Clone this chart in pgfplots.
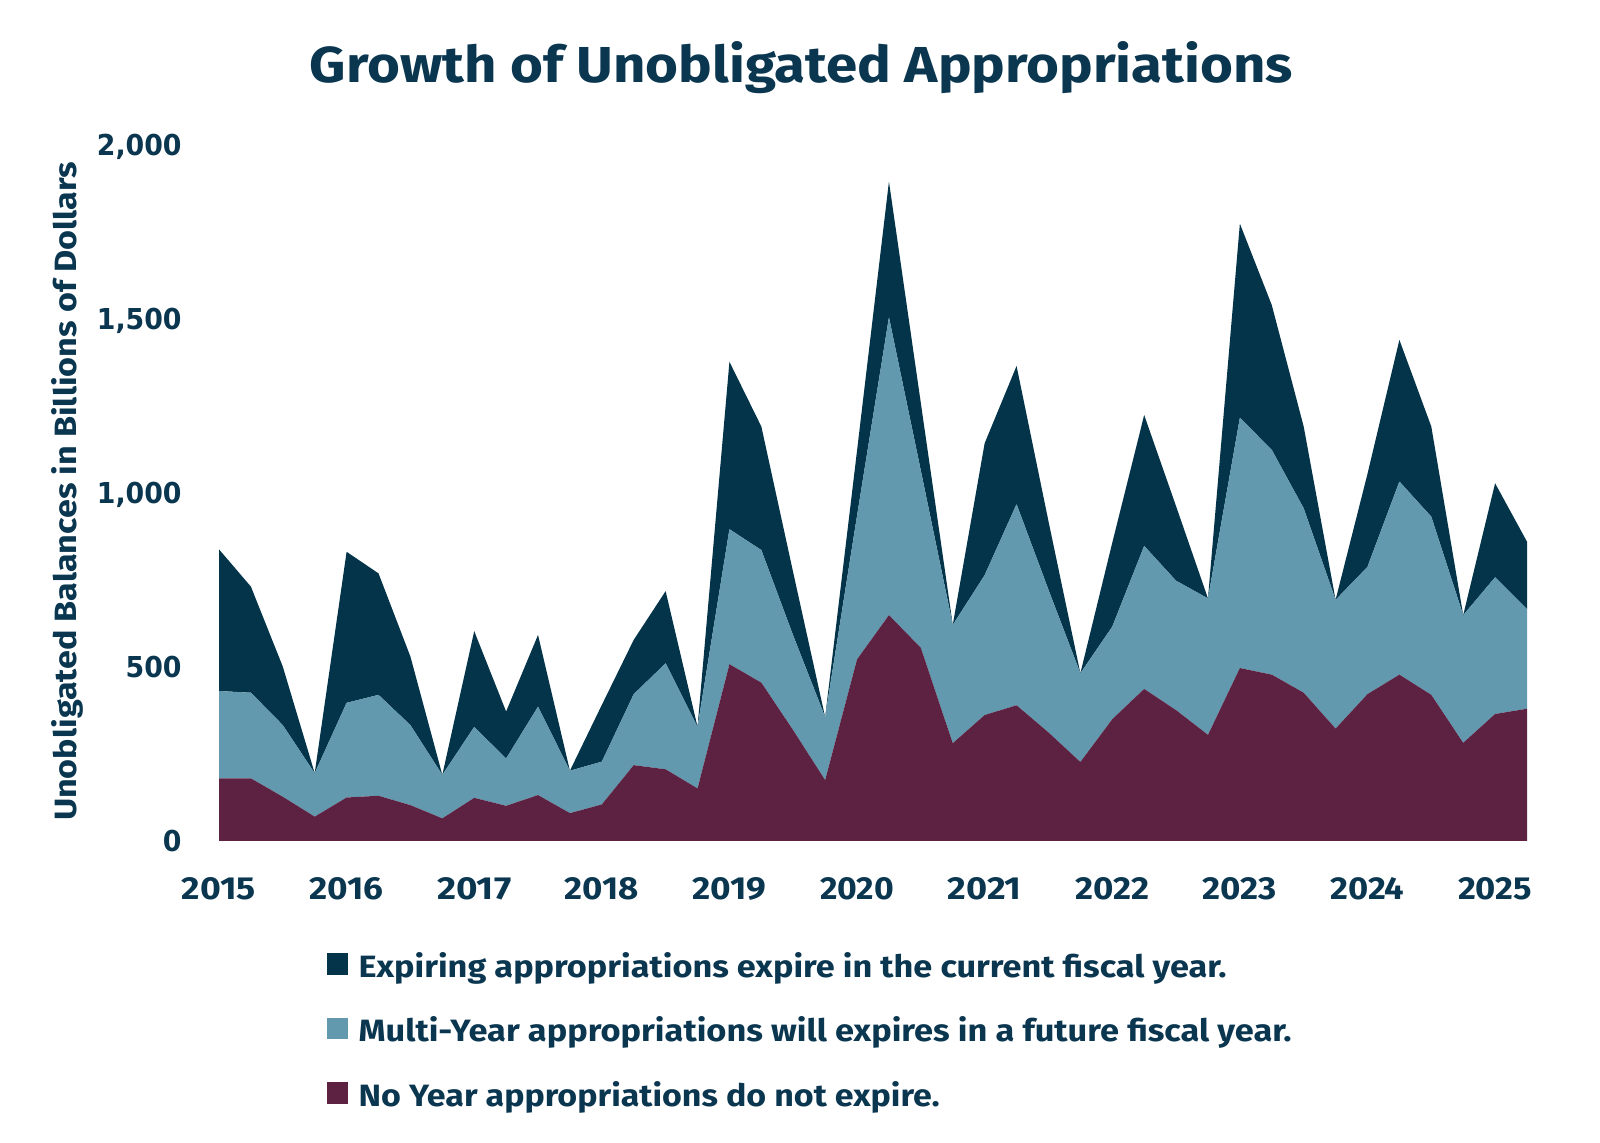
\documentclass[border=0pt]{standalone}
\usepackage{fontspec}
\setmainfont{Fira Sans}
\newfontfamily\dejavu{DejaVu Sans}
\usepackage{graphicx}
\usepackage{pgfplots}
\pgfplotsset{compat=1.18}
\usepackage{pgfplotstable}
\definecolor{navy}{HTML}{03344A}
\definecolor{steel}{HTML}{6399AE}
\definecolor{maroon}{HTML}{5D2242}
\definecolor{txt}{HTML}{0A3650}

\newcommand\xt[1]{\resizebox{37pt}{11pt}{\bfseries #1}}
\newcommand\yt[1]{\scalebox{0.93}[1]{\dejavu\fontsize{14.4pt}{14.4pt}\selectfont\bfseries #1}}

\pgfplotstableread{
k noyear multi expiring
0 180 251 407
1 180 246 305
2 127 206 168
3 70 125 0
4 125 272 434
5 130 290 349
6 103 230 197
7 65 125 0
8 124 204 275
9 101 136 135
10 132 254 206
11 80 122 0
12 105 123 163
13 218 204 156
14 206 305 207
15 151 177 0
16 508 388 481
17 455 381 355
18 318 272 181
19 175 181 0
20 522 413 187
21 649 856 390
22 555 509 194
23 281 340 0
24 362 402 379
25 390 578 397
26 312 410 197
27 227 255 0
28 350 266 241
29 437 411 376
30 376 372 214
31 305 392 0
32 497 719 558
33 478 646 416
34 426 530 235
35 323 370 0
36 422 366 267
37 478 555 407
38 420 512 259
39 282 367 0
40 365 393 270
41 380 286 194
}\datatable

\begin{document}
\begin{tikzpicture}
\path[use as bounding box] (0,0) rectangle (800pt,571.5pt);
\begin{axis}[
  at={(109.5pt,151pt)}, anchor=south west,
  scale only axis, width=654pt, height=348pt,
  xmin=0, xmax=41, ymin=0, ymax=2000,
  stack plots=y,
  axis line style={draw=none},
  tick style={draw=none},
  major tick length=0pt,
  xtick={0,4,...,40},
  xticklabels={\xt{2015},\xt{2016},\xt{2017},\xt{2018},\xt{2019},\xt{2020},\xt{2021},\xt{2022},\xt{2023},\xt{2024},\xt{2025}},
  ytick={0,500,1000,1500,2000},
  yticklabels={{\yt{0}},{\yt{500}},{\yt{1,000}},{\yt{1,500}},{\yt{2,000}}},
  xticklabel style={anchor=base, yshift=-29.5pt, inner sep=0pt, text=txt},
  yticklabel style={anchor=base east, xshift=-18.5pt, yshift=-5.25pt, inner sep=0pt, text=txt},
  every axis title shift=0pt,
  title={\resizebox{491.5pt}{20.5pt}{\bfseries Growth of Unobligated Appropriations}},
  title style={at={(axis description cs:0.4453,1.0891)}, anchor=base, inner sep=0pt, text=txt},
  ylabel={\resizebox{329.5pt}{12.5pt}{\bfseries Unobligated Balances in Billions of Dollars}},
  ylabel style={at={(axis description cs:-0.1093,0.5022)}, anchor=base, inner sep=0pt, text=txt},
  legend style={at={(axis description cs:0.0826,-0.1595)}, anchor=north west,
    draw=none, fill=none, inner sep=0pt, outer sep=0pt,
    row sep=16.85pt, column sep=5.3pt,
    nodes={inner sep=0pt, text height=12.5pt, text depth=3pt, text=txt}},
  legend cell align=left,
  reverse legend,
  legend image code/.code={\fill[#1] (0pt,-3.5pt) rectangle (10.5pt,7.25pt);},
]
\addplot[fill=maroon, draw=none] table[x=k, y=noyear]{\datatable} \closedcycle;
\addlegendentry{\resizebox{290.5pt}{12.5pt}{\bfseries No Year appropriations do not expire.}}
\addplot[fill=steel, draw=none] table[x=k, y=multi]{\datatable} \closedcycle;
\addlegendentry{\resizebox{466.5pt}{12.5pt}{\bfseries Multi-Year appropriations will expires in a future fiscal year.}}
\addplot[fill=navy, draw=none] table[x=k, y=expiring]{\datatable} \closedcycle;
\addlegendentry{\resizebox{434pt}{12.5pt}{\bfseries Expiring appropriations expire in the current fiscal year.}}
\end{axis}
\end{tikzpicture}
\end{document}
